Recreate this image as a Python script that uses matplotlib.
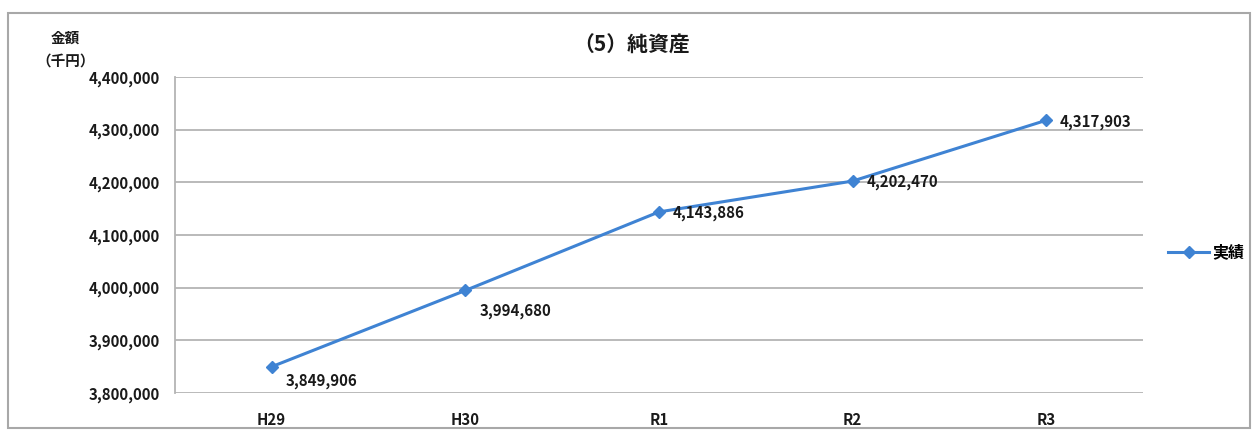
import matplotlib
matplotlib.use("Agg")
import matplotlib.pyplot as plt
from matplotlib.patches import Rectangle
from matplotlib.lines import Line2D

plt.rcParams['font.family'] = ['Noto Sans CJK JP', 'DejaVu Sans']

years = ['H29', 'H30', 'R1', 'R2', 'R3']
values = [3849906, 3994680, 4143886, 4202470, 4317903]
yticks = [3800000, 3900000, 4000000, 4100000, 4200000, 4300000, 4400000]

line_color = '#3f83d3'
grid_color = '#b4b4b4'
text_color = '#1a1a1a'

fig = plt.figure(figsize=(12.58, 4.33), dpi=100)
fig.patches.append(Rectangle((0.006, 0.012), 0.988, 0.958, transform=fig.transFigure,
                             fill=False, edgecolor='#a8a8a8', linewidth=1.5))

ax = fig.add_axes([0.139, 0.0924, 0.7696, 0.7296])
x = list(range(len(years)))
ax.plot(x, values, color=line_color, linewidth=2.2, marker='D', markersize=6,
        markerfacecolor=line_color, markeredgecolor=line_color)

# data labels, nudged like the spreadsheet placed them
offsets = [(10, -10), (10, -15), (10, -1), (10, -1), (10, -1)]
for xi, v, (dx, dy) in zip(x, values, offsets):
    ax.annotate(f'{v:,}', (xi, v), xytext=(dx, dy), textcoords='offset points',
                ha='left', va='center', fontsize=10.8, fontweight='bold', color=text_color)

ax.set_xlim(-0.5, 4.5)
ax.set_ylim(3800000, 4400000)
ax.set_yticks(yticks)
ax.set_yticklabels([f'{t:,}' for t in yticks])
ax.set_xticks(x)
ax.set_xticklabels(years)
ax.yaxis.grid(True, color=grid_color, linewidth=1.3)
ax.set_axisbelow(True)
ax.tick_params(length=0, labelsize=10.8, labelcolor=text_color, pad=11)
ax.tick_params(axis='x', pad=14)
for lab in ax.get_xticklabels() + ax.get_yticklabels():
    lab.set_fontweight('bold')
for side in ['top', 'right', 'bottom']:
    ax.spines[side].set_visible(False)
ax.spines['left'].set_color(grid_color)
ax.spines['left'].set_linewidth(1.3)

fig.text(0.502, 0.895, '（5）純資産', ha='center', va='center', fontsize=15,
         fontweight='bold', color=text_color)
fig.text(0.052, 0.913, '金額', ha='center', va='center', fontsize=10.5,
         fontweight='bold', color=text_color)
fig.text(0.052, 0.86, '（千円）', ha='center', va='center', fontsize=10.5,
         fontweight='bold', color=text_color)

handle = Line2D([], [], color=line_color, linewidth=2.2, marker='D', markersize=6)
fig.legend([handle], ['実績'], loc='center left', bbox_to_anchor=(0.917, 0.417),
           frameon=False, handlelength=2.6, handletextpad=0.15,
           prop={'weight': 'bold', 'size': 11.5})

fig.savefig('out.png', dpi=100)
